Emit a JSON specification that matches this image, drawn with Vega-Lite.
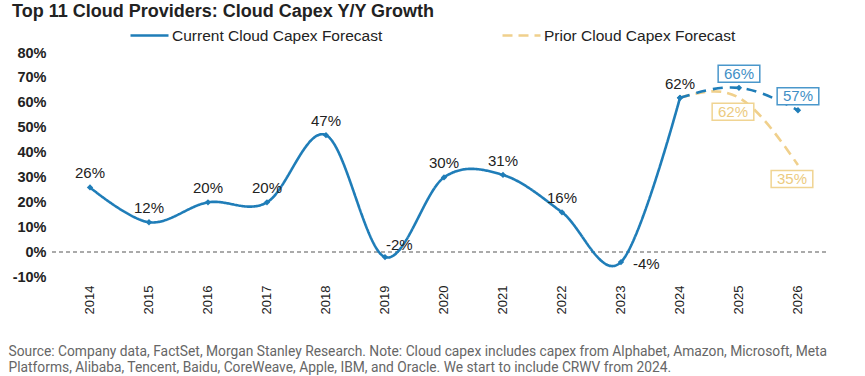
{
  "$schema": "https://vega.github.io/schema/vega-lite/v6.json",
  "width": 774,
  "height": 224,
  "autosize": {"type": "none"},
  "padding": {"left": 52, "top": 53, "right": 39, "bottom": 99},
  "background": "white",
  "title": {
    "text": "Top 11 Cloud Providers: Cloud Capex Y/Y Growth",
    "anchor": "start",
    "frame": "group",
    "dx": -40,
    "dy": 10,
    "offset": 4,
    "font": "Liberation Sans",
    "fontSize": 18,
    "fontWeight": "bold",
    "color": "#222222"
  },
  "config": {
    "view": {"stroke": null},
    "font": "Liberation Sans",
    "legend": {
      "title": null,
      "orient": "none",
      "legendX": 77,
      "legendY": -38,
      "direction": "horizontal",
      "symbolType": "stroke",
      "symbolSize": 1444,
      "symbolStrokeWidth": 2.6,
      "labelFont": "Liberation Sans",
      "labelFontSize": 15.5,
      "labelColor": "#222222",
      "labelOffset": 2,
      "labelLimit": 400,
      "columnPadding": 114
    }
  },
  "data": {
    "values": [
      {"year": 2014, "value": 26, "series": "Current Cloud Capex Forecast", "phase": "Actual"},
      {"year": 2015, "value": 12, "series": "Current Cloud Capex Forecast", "phase": "Actual"},
      {"year": 2016, "value": 20, "series": "Current Cloud Capex Forecast", "phase": "Actual"},
      {"year": 2017, "value": 20, "series": "Current Cloud Capex Forecast", "phase": "Actual"},
      {"year": 2018, "value": 47, "series": "Current Cloud Capex Forecast", "phase": "Actual"},
      {"year": 2019, "value": -2, "series": "Current Cloud Capex Forecast", "phase": "Actual"},
      {"year": 2020, "value": 30, "series": "Current Cloud Capex Forecast", "phase": "Actual"},
      {"year": 2021, "value": 31, "series": "Current Cloud Capex Forecast", "phase": "Actual"},
      {"year": 2022, "value": 16, "series": "Current Cloud Capex Forecast", "phase": "Actual"},
      {"year": 2023, "value": -4, "series": "Current Cloud Capex Forecast", "phase": "Actual"},
      {"year": 2024, "value": 62, "series": "Current Cloud Capex Forecast", "phase": "Actual"},
      {"year": 2024, "value": 62, "series": "Current Cloud Capex Forecast", "phase": "Forecast"},
      {"year": 2025, "value": 66, "series": "Current Cloud Capex Forecast", "phase": "Forecast"},
      {"year": 2026, "value": 57, "series": "Current Cloud Capex Forecast", "phase": "Forecast"},
      {"year": 2024, "value": 62, "series": "Prior Cloud Capex Forecast", "phase": "Forecast"},
      {"year": 2025, "value": 62, "series": "Prior Cloud Capex Forecast", "phase": "Forecast"},
      {"year": 2026, "value": 35, "series": "Prior Cloud Capex Forecast", "phase": "Forecast"}
    ]
  },
  "transform": [{"calculate": "datum.value + '%'", "as": "lbl"}],
  "encoding": {
    "x": {
      "field": "year",
      "type": "quantitative",
      "scale": {"domain": [2013.356, 2026.475], "nice": false, "zero": false},
      "axis": {
        "values": [2014, 2015, 2016, 2017, 2018, 2019, 2020, 2021, 2022, 2023, 2024, 2025, 2026],
        "format": "d",
        "labelAngle": 270,
        "labelAlign": "right",
        "labelBaseline": "middle",
        "labelPadding": 8,
        "labelFont": "Liberation Sans",
        "labelFontSize": 13,
        "labelColor": "#222222",
        "domain": false,
        "ticks": false,
        "grid": false,
        "title": [
          "Source: Company data, FactSet, Morgan Stanley Research. Note: Cloud capex includes capex from Alphabet, Amazon, Microsoft, Meta",
          "Platforms, Alibaba, Tencent, Baidu, CoreWeave, Apple, IBM, and Oracle. We start to include CRWV from 2024."
        ],
        "titleFont": "Roboto",
        "titleFontSize": 13.8,
        "titleFontWeight": "normal",
        "titleColor": "#666666",
        "titleAnchor": "start",
        "titleAlign": "left",
        "titleBaseline": "top",
        "titleX": -44,
        "titleY": 67,
        "titleLineHeight": 16
      }
    },
    "y": {
      "field": "value",
      "type": "quantitative",
      "scale": {"domain": [-10, 80], "nice": false},
      "axis": {
        "values": [-10, 0, 10, 20, 30, 40, 50, 60, 70, 80],
        "labelExpr": "datum.value + '%'",
        "labelFont": "Liberation Sans",
        "labelFontSize": 14.5,
        "labelFontWeight": "bold",
        "labelColor": "#222222",
        "labelPadding": 6,
        "domain": false,
        "ticks": false,
        "grid": false,
        "title": null
      }
    }
  },
  "layer": [
    {
      "mark": {"type": "rule", "color": "#aaaaaa", "strokeDash": [4, 3], "strokeWidth": 1},
      "encoding": {"y": {"datum": 0}, "x": {"value": 0}, "x2": {"value": 774}}
    },
    {
      "transform": [{"filter": "datum.phase == 'Actual'"}],
      "mark": {"type": "line", "interpolate": "cardinal", "strokeWidth": 2.6},
      "encoding": {
        "color": {
          "field": "series",
          "type": "nominal",
          "scale": {"domain": ["Current Cloud Capex Forecast", "Prior Cloud Capex Forecast"], "range": ["#1f7db8", "#f0d08c"]}
        },
        "strokeDash": {
          "field": "series",
          "type": "nominal",
          "scale": {"domain": ["Current Cloud Capex Forecast", "Prior Cloud Capex Forecast"], "range": [[1, 0], [10, 6]]}
        }
      }
    },
    {
      "transform": [{"filter": "datum.series == 'Prior Cloud Capex Forecast'"}],
      "mark": {"type": "line", "interpolate": "natural", "strokeWidth": 2.6},
      "encoding": {
        "color": {"field": "series", "type": "nominal"},
        "strokeDash": {"field": "series", "type": "nominal"}
      }
    },
    {
      "transform": [{"filter": "datum.phase == 'Forecast' && datum.series == 'Current Cloud Capex Forecast'"}],
      "mark": {"type": "line", "interpolate": "natural", "strokeWidth": 2.6, "color": "#1f7db8", "strokeDash": [10, 7]}
    },
    {
      "transform": [{"filter": "datum.series == 'Current Cloud Capex Forecast'"}],
      "mark": {"type": "point", "shape": "diamond", "filled": true, "size": 40, "color": "#1f7db8", "opacity": 1}
    },
    {
      "transform": [{"filter": "datum.phase == 'Actual' && datum.year != 2019 && datum.year != 2023"}],
      "mark": {"type": "text", "dy": -14, "font": "Liberation Sans", "fontSize": 15, "color": "#222222"},
      "encoding": {"text": {"field": "lbl", "type": "nominal"}}
    },
    {
      "transform": [{"filter": "datum.year == 2019"}],
      "mark": {"type": "text", "align": "left", "dx": 1, "dy": -12, "font": "Liberation Sans", "fontSize": 15, "color": "#222222"},
      "encoding": {"text": {"field": "lbl", "type": "nominal"}}
    },
    {
      "transform": [{"filter": "datum.year == 2023"}],
      "mark": {"type": "text", "align": "left", "dx": 12, "dy": 2, "font": "Liberation Sans", "fontSize": 15, "color": "#222222"},
      "encoding": {"text": {"field": "lbl", "type": "nominal"}}
    },
    {
      "transform": [{"filter": "datum.phase == 'Forecast' && datum.year != 2024 && datum.series == 'Current Cloud Capex Forecast'"}],
      "mark": {"type": "point", "shape": "M-2.45,-1H2.45V1H-2.45Z", "size": 289, "filled": false, "fill": "white", "fillOpacity": 1, "stroke": "#4a97cb", "strokeWidth": 1.5, "opacity": 1, "yOffset": -14}
    },
    {
      "transform": [{"filter": "datum.phase == 'Forecast' && datum.year != 2024 && datum.series == 'Prior Cloud Capex Forecast'"}],
      "mark": {"type": "point", "shape": "M-2.45,-1H2.45V1H-2.45Z", "size": 289, "filled": false, "fill": "white", "fillOpacity": 1, "stroke": "#f0d492", "strokeWidth": 1.5, "opacity": 1, "yOffset": 14, "xOffset": -6}
    },
    {
      "transform": [{"filter": "datum.phase == 'Forecast' && datum.year != 2024 && datum.series == 'Current Cloud Capex Forecast'"}],
      "mark": {"type": "text", "yOffset": -14, "baseline": "middle", "font": "Liberation Sans", "fontSize": 15, "color": "#3f8fc6"},
      "encoding": {"text": {"field": "lbl", "type": "nominal"}}
    },
    {
      "transform": [{"filter": "datum.phase == 'Forecast' && datum.year != 2024 && datum.series == 'Prior Cloud Capex Forecast'"}],
      "mark": {"type": "text", "yOffset": 14, "xOffset": -6, "baseline": "middle", "font": "Liberation Sans", "fontSize": 15, "color": "#eccb80"},
      "encoding": {"text": {"field": "lbl", "type": "nominal"}}
    }
  ]
}
